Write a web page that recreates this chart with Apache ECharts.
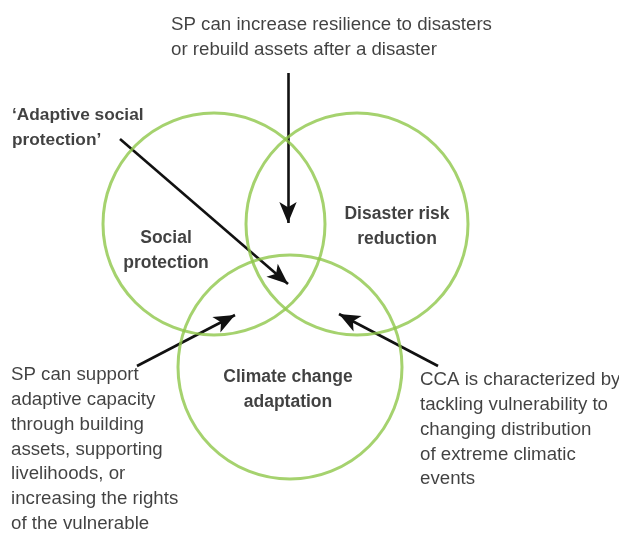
<!DOCTYPE html>
<html>
<head>
    <title>SP, DRR and CCA</title>
    <meta charset="utf-8">
    <script type="text/javascript" src="https://cdn.jsdelivr.net/npm/echarts@6/dist/echarts.min.js"></script>
    <style>
        html, body { margin: 0; padding: 0; background: #fff; }
    </style>
</head>
<body>
    <div id="main" style="width: 619px; height: 535px;"></div>
    <script type="text/javascript">
        // the three fields, centre and radius on a 619x535 canvas
        const circleNames = ['Social protection', 'Disaster risk reduction', 'Climate change adaptation'];
        const circleX = [214, 357, 290];
        const circleY = [224, 224, 367];
        const circleR = [111, 111, 112];

        // bold titles inside the circles
        const titleText = ['Social\nprotection', 'Disaster risk\nreduction', 'Climate change\nadaptation'];
        const titleX = [166, 397, 288];
        const titleY = [251, 227, 390];

        // notes with arrows
        const noteText = [
            'SP can increase resilience to disasters\nor rebuild assets after a disaster',
            'SP can support\nadaptive capacity\nthrough building\nassets, supporting\nlivelihoods, or\nincreasing the rights\nof the vulnerable',
            'CCA is characterized by\ntackling vulnerability to\nchanging distribution\nof extreme climatic\nevents'
        ];
        const noteX = [171, 11, 420];
        const noteY = [13, 363, 368];

        const headText = ['\u2018Adaptive social\nprotection\u2019'];
        const headX = [12];
        const headY = [103];

        const arrowFrom = [[288, 73], [120, 139], [137, 366], [438, 366]];
        const arrowTo = [[288, 223], [288, 284], [235, 315], [339, 314]];

        const ink = '#111';
        const green = '#8fc74a';
        const font = '"Liberation Sans", Arial, sans-serif';

        const chart = echarts.init(document.getElementById('main'));

        chart.setOption({
            animation: false,
            backgroundColor: '#fff',
            grid: { left: 0, right: 0, top: 0, bottom: 0 },
            xAxis: { type: 'value', min: 0, max: 619, show: false },
            yAxis: { type: 'value', min: 0, max: 535, inverse: true, show: false },
            series: [
                {
                    type: 'scatter',
                    silent: true,
                    data: circleNames.map((n, i) => ({ name: n, value: [circleX[i], circleY[i]], symbolSize: circleR[i] * 2 })),
                    itemStyle: { color: 'rgba(0,0,0,0)', borderColor: green, borderWidth: 3 }
                },
                {
                    type: 'lines',
                    coordinateSystem: 'cartesian2d',
                    silent: true,
                    symbol: ['none', 'arrow'],
                    symbolSize: [0, [13, 21]],
                    lineStyle: { color: ink, width: 2.6, opacity: 1 },
                    data: arrowFrom.map((p, i) => ({ coords: [p, arrowTo[i]] }))
                },
                {
                    type: 'scatter',
                    silent: true,
                    symbolSize: 0,
                    data: titleText.map((t, i) => ({ name: t, value: [titleX[i], titleY[i]] })),
                    label: {
                        show: true, position: 'inside', formatter: '{b}',
                        align: 'center', verticalAlign: 'middle',
                        color: ink, fontFamily: font, fontWeight: 'bold', fontSize: 17.5, lineHeight: 25
                    }
                },
                {
                    type: 'scatter',
                    silent: true,
                    symbolSize: 0,
                    data: noteText.map((t, i) => ({ name: t, value: [noteX[i], noteY[i]] })),
                    label: {
                        show: true, position: [0, 0], formatter: '{b}',
                        align: 'left', verticalAlign: 'top',
                        color: ink, fontFamily: font, fontSize: 18.7, lineHeight: 24.7
                    }
                },
                {
                    type: 'scatter',
                    silent: true,
                    symbolSize: 0,
                    data: headText.map((t, i) => ({ name: t, value: [headX[i], headY[i]] })),
                    label: {
                        show: true, position: [0, 0], formatter: '{b}',
                        align: 'left', verticalAlign: 'top',
                        color: ink, fontFamily: font, fontWeight: 'bold', fontSize: 17.3, lineHeight: 25
                    }
                }
            ]
        });
    </script>
</body>
</html>
